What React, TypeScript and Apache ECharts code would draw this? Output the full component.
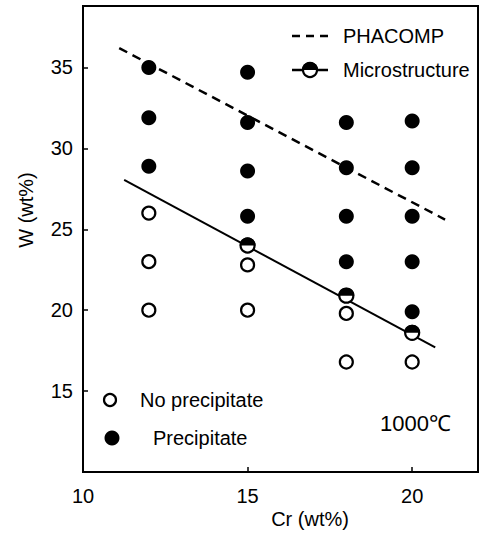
import React, { useEffect, useRef } from "react";
import * as echarts from "echarts";

// Data (Cr wt%, W wt%)
const noPrecipitate: number[][] = [
  [12, 26.0], [12, 23.0], [12, 20.0],
  [15, 22.8], [15, 20.0],
  [18, 19.8], [18, 16.8],
  [20, 16.8],
];
const precipitate: number[][] = [
  [12, 35.0], [12, 31.9], [12, 28.9],
  [15, 34.7], [15, 31.6], [15, 28.6], [15, 25.8],
  [18, 31.6], [18, 28.8], [18, 25.8], [18, 23.0],
  [20, 31.7], [20, 28.8], [20, 25.8], [20, 23.0], [20, 19.9],
];
const microstructurePoints: number[][] = [
  [15, 24.0], [18, 20.9], [20, 18.6],
];
const phacompLine: number[][] = [[11.1, 36.2], [21.0, 25.6]];
const microstructureLine: number[][] = [[11.25, 28.05], [20.7, 17.7]];

const xTicks = [10, 15, 20];
const yTicks = [15, 20, 25, 30, 35];

const FONT = "Liberation Sans";
const HALF = "path://M0,10 A10,10 0 0 1 20,10 Z";

export default function App() {
  const ref = useRef<HTMLDivElement>(null);
  useEffect(() => {
    if (!ref.current) return;
    const chart = echarts.init(ref.current, undefined, { renderer: "svg" });
    const option: any = {
      animation: false,
      backgroundColor: "#fff",
      grid: {
        left: 83, right: 3, top: 6, bottom: 62,
        show: true, borderColor: "#000", borderWidth: 2,
      },
      xAxis: {
        type: "value", min: 10, max: 22, interval: 5,
        axisLine: { show: true, lineStyle: { color: "#000", width: 2 } },
        axisTick: { show: true, inside: true, length: 5, lineStyle: { color: "#000", width: 1.5 } },
        splitLine: { show: false },
        axisLabel: {
          color: "#000", fontFamily: FONT, fontSize: 20, margin: 14,
          formatter: (v: number) => (xTicks.includes(v) ? String(v) : ""),
        },
      },
      yAxis: {
        type: "value", min: 10, max: 38.8, interval: 5,
        axisLine: { show: true, lineStyle: { color: "#000", width: 2 } },
        axisTick: { show: true, inside: true, length: 5, lineStyle: { color: "#000", width: 1.5 } },
        splitLine: { show: false },
        axisLabel: {
          color: "#000", fontFamily: FONT, fontSize: 20, margin: 10,
          formatter: (v: number) => (yTicks.includes(v) ? String(v) : ""),
        },
      },
      series: [
        {
          name: "PHACOMP", type: "line", data: phacompLine, symbol: "none", z: 1,
          lineStyle: { color: "#000", width: 2.5, type: [9, 6] },
        },
        {
          name: "Microstructure", type: "line", data: microstructureLine, symbol: "none", z: 1,
          lineStyle: { color: "#000", width: 2 },
        },
        {
          name: "No precipitate", type: "scatter", data: noPrecipitate, symbol: "circle", symbolSize: 13, z: 3,
          itemStyle: { color: "#fff", borderColor: "#000", borderWidth: 2.2, opacity: 1 },
        },
        {
          name: "Precipitate", type: "scatter", data: precipitate, symbol: "circle", symbolSize: 15, z: 3,
          itemStyle: { color: "#000", opacity: 1 },
        },
        {
          name: "Microstructure open", type: "scatter", data: microstructurePoints, symbol: "circle", symbolSize: 14, z: 3,
          itemStyle: { color: "#fff", borderColor: "#000", borderWidth: 2.2, opacity: 1 },
        },
        {
          name: "Microstructure fill", type: "scatter", data: microstructurePoints, symbol: HALF,
          symbolSize: [16, 8], symbolOffset: [0, -4], z: 4,
          itemStyle: { color: "#000", opacity: 1 },
        },
      ],
      graphic: [
        // top-right legend
        { type: "line", shape: { x1: 292, y1: 36, x2: 328, y2: 36 }, style: { stroke: "#000", lineWidth: 2.5, lineDash: [8, 6] } },
        { type: "text", x: 343, y: 36, style: { text: "PHACOMP", fill: "#000", font: `20px "${FONT}"`, verticalAlign: "middle" } },
        { type: "line", shape: { x1: 292, y1: 70, x2: 328, y2: 70 }, style: { stroke: "#000", lineWidth: 2.5 } },
        { type: "circle", shape: { cx: 310, cy: 70, r: 7 }, style: { fill: "#fff", stroke: "#000", lineWidth: 2.2 } },
        { type: "sector", shape: { cx: 310, cy: 70, r: 8, r0: 0, startAngle: Math.PI, endAngle: Math.PI * 2 }, style: { fill: "#000" } },
        { type: "text", x: 343, y: 70, style: { text: "Microstructure", fill: "#000", font: `20px "${FONT}"`, verticalAlign: "middle" } },
        // bottom-left legend
        { type: "circle", shape: { cx: 110, cy: 400, r: 6 }, style: { fill: "#fff", stroke: "#000", lineWidth: 2.2 } },
        { type: "text", x: 140, y: 400, style: { text: "No precipitate", fill: "#000", font: `20px "${FONT}"`, verticalAlign: "middle" } },
        { type: "circle", shape: { cx: 112, cy: 438, r: 7.5 }, style: { fill: "#000" } },
        { type: "text", x: 153, y: 438, style: { text: "Precipitate", fill: "#000", font: `20px "${FONT}"`, verticalAlign: "middle" } },
        { type: "text", x: 380, y: 423, style: { text: "1000℃", fill: "#000", font: `22px "${FONT}"`, verticalAlign: "middle" } },
        // axis names
        { type: "text", x: 310, y: 519, style: { text: "Cr (wt%)", fill: "#000", font: `20px "${FONT}"`, align: "center", verticalAlign: "middle" } },
        { type: "text", x: 26, y: 210, rotation: Math.PI / 2, style: { text: "W (wt%)", fill: "#000", font: `20px "${FONT}"`, align: "center", verticalAlign: "middle" } },
      ],
    };
    chart.setOption(option);
    return () => chart.dispose();
  }, []);
  return (
    <div
      ref={ref}
      style={{ position: "fixed", left: 0, top: 0, width: 481, height: 534, background: "#fff" }}
    />
  );
}
